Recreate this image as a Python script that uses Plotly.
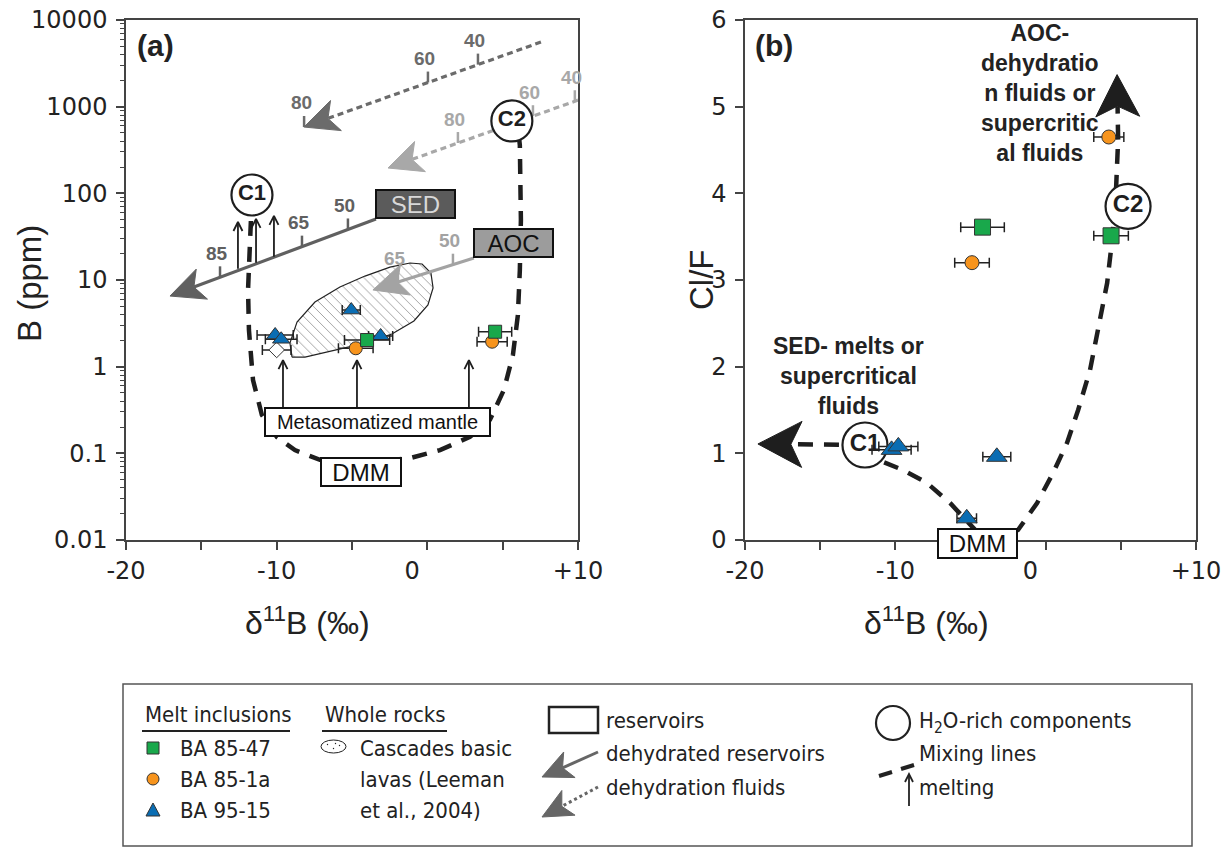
import numpy as np
import plotly.graph_objects as go

W, H = 1230, 847
OFF = 8             # page margin of the host document
XA = (126, 578)     # pixel extent of panel (a) x axis
XB = (745, 1196)    # pixel extent of panel (b) x axis
YP = (20, 540)      # pixel extent (top, bottom) of both y axes

# ---------------- axes ----------------
X_RANGE = [-20, 10]
X_TICKVALS = [-20, -10, 0, 10]
X_TICKTEXT = ["-20", "-10", "0\u2007\u2007", "+10"]
X_MINOR = [-15, -5, 5]
B_LOG_RANGE = [-2, 4]
CLF_RANGE = [0, 6]

# ---------------- melt inclusions, panel (a): d11B vs B ----------------
sq_d11B_a = [-4.0, 4.5];   sq_B = [2.03, 2.53];  sq_err_a = [1.5, 1.1]
ci_d11B_a = [-4.75, 4.3];  ci_B = [1.63, 1.94];  ci_err_a = [1.15, 1.0]
tr_d11B_a = [-10.1, -9.7, -5.05, -3.1]; tr_B = [2.32, 2.07, 4.5, 2.26]; tr_err_a = [1.2, 1.05, 0.6, 0.8]
di_d11B_a = [-10.0]; di_B = [1.56]; di_err_a = [0.95]

# ---------------- melt inclusions, panel (b): d11B vs Cl/F ----------------
sq_d11B_b = [-4.2, 4.35];  sq_ClF = [3.61, 3.51]; sq_err_b = [1.45, 1.15]
ci_d11B_b = [-4.9, 4.2];   ci_ClF = [3.2, 4.65];  ci_err_b = [1.15, 1.0]
tr_d11B_b = [-10.25, -9.8, -3.25, -5.25]; tr_ClF = [1.04, 1.08, 0.96, 0.25]; tr_err_b = [1.3, 1.3, 0.93, 0.65]

# ---------------- Cascades basic lavas field (a) ----------------
blob_d11B = [-8.98, -9.12, -8.65, -7.46, -5.80, -4.14, -2.48, -1.15, -0.35, 0.24, 0.38, 0.04,
             -0.89, -2.35, -4.34, -6.46, -8.12, -8.98]
blob_B = [1.29, 1.87, 3.27, 5.57, 8.30, 11.1, 14.1, 15.7, 15.3, 12.0, 8.09, 5.15,
          3.37, 2.38, 1.83, 1.52, 1.29, 1.29]

# ---------------- reservoir / fluid trends (a) ----------------
sed_line = dict(tail=(-3.41, 50.6), tip=(-17.08, 6.53), color="#606060", dash="solid",
                ticks=[-13.76, -8.32, -5.27], labels=["85", "65", "50"])
aoc_line = dict(tail=(3.09, 17.9), tip=(-3.61, 7.67), color="#a3a3a3", dash="solid",
                ticks=[-1.95, 1.70], labels=["65", "50"])
sed_fluid = dict(tail=(7.54, 5570), tip=(-8.19, 582), color="#6b6b6b", dash="6px,4px",
                 ticks=[-8.18, 0.04, 3.36], labels=["80", "60", "40"])
aoc_fluid = dict(tail=(10.0, 1190), tip=(-2.61, 196), color="#a8a8a8", dash="6px,4px",
                 ticks=[2.03, 7.01, 9.79], labels=["80", "60", "40"])

# ---------------- mixing curves ----------------
mix_a_d11B = [-11.64, -11.80, -11.90, -11.84, -11.57, -10.98, -9.98, -8.79, -7.13, -4.14,
              -1.15, 0.84, 2.83, 4.15, 5.08, 5.68, 6.01, 6.14, 6.21, 6.14, 6.0]
mix_a_B = [95.7, 22.2, 7.67, 2.65, 0.70, 0.277, 0.154, 0.109, 0.084, 0.0774,
           0.088, 0.109, 0.155, 0.243, 0.538, 1.36, 3.94, 13.0, 49.2, 361, 600]
mix_b_d11B = [-12.02, -10.82, -9.49, -7.89, -6.36, -5.50, -4.6, -3.2, -1.84, -0.57, 0.49,
              1.42, 2.16, 2.95, 3.49, 4.09, 4.42, 4.68, 4.82]
mix_b_ClF = [1.096, 0.90, 0.808, 0.658, 0.427, 0.265, 0.10, 0.02, 0.115, 0.427, 0.773,
             1.119, 1.50, 1.96, 2.42, 2.965, 3.46, 4.04, 4.62]
mix_b_up_tip = (4.75, 5.37)
mix_b_left_tip = (-19.14, 1.108)

# H2O-rich components
c_a = {"C1": (-11.64, 95.7), "C2": (5.61, 684)}
c_b = {"C1": (-12.02, 1.096), "C2": (5.48, 3.85)}

# melting arrows (a): d11B, start B, end B
melt_up_d11B = [-12.57, -11.37, -10.18]; melt_up_B0 = [13.5, 15.8, 18.5]; melt_up_B1 = [46.7, 50.6, 54.8]
melt_lo_d11B = [-9.58, -4.67, 2.76]; melt_lo_B0 = [0.343, 0.343, 0.343]; melt_lo_B1 = [1.19, 1.19, 1.19]

GREEN, ORANGE, BLUE = "#19a84b", "#f7941d", "#0a6db3"
INK = "#1e1e1e"

# ---------------- pixel helpers (for arrowheads only) ----------------
SX = (XA[1] - XA[0]) / 30.0
SYA = (YP[1] - YP[0]) / 6.0
SYB = (YP[1] - YP[0]) / 6.0


def to_px(x, y, log):
    return x * SX, (np.log10(y) * SYA if log else y * SYB)


def from_px(X, Y, log):
    return X / SX, (10 ** (Y / SYA) if log else Y / SYB)


def chevron(tip, tail, L, hw, notch, log):
    tx, ty = to_px(tip[0], tip[1], log)
    sx, sy = to_px(tail[0], tail[1], log)
    dx, dy = tx - sx, ty - sy
    n = np.hypot(dx, dy); dx /= n; dy /= n
    nx, ny = -dy, dx
    pts = [(tx, ty), (tx - L * dx + hw * nx, ty - L * dy + hw * ny),
           (tx - notch * L * dx, ty - notch * L * dy),
           (tx - L * dx - hw * nx, ty - L * dy - hw * ny), (tx, ty)]
    xy = [from_px(X, Y, log) for X, Y in pts]
    return [p[0] for p in xy], [p[1] for p in xy], xy[2]


def vhead(tip, tail, L, hw, log):
    tx, ty = to_px(tip[0], tip[1], log)
    sx, sy = to_px(tail[0], tail[1], log)
    dx, dy = tx - sx, ty - sy
    n = np.hypot(dx, dy); dx /= n; dy /= n
    nx, ny = -dy, dx
    pts = [(tx - L * dx + hw * nx, ty - L * dy + hw * ny), (tx, ty),
           (tx - L * dx - hw * nx, ty - L * dy - hw * ny)]
    xy = [from_px(X, Y, log) for X, Y in pts]
    return [p[0] for p in xy], [p[1] for p in xy]


fig = go.Figure()
SK = dict(hoverinfo="skip", showlegend=False)


def add_arrow(tail, tip, color, dash, width, L, hw, log, xa, ya):
    hx, hy, base = chevron(tip, tail, L, hw, 0.75, log)
    fig.add_trace(go.Scatter(x=[tail[0], base[0]], y=[tail[1], base[1]], mode="lines",
                             line=dict(color=color, width=width, dash=dash), xaxis=xa, yaxis=ya, **SK))
    fig.add_trace(go.Scatter(x=hx, y=hy, mode="lines", fill="toself", fillcolor=color,
                             line=dict(color=color, width=1), xaxis=xa, yaxis=ya, **SK))


annotations = []

# ---- panel (a) ----
fig.add_trace(go.Scatter(x=blob_d11B, y=blob_B, mode="lines", fill="toself",
                         fillcolor="white", line=dict(color="#222", width=1.2),
                         fillpattern=dict(shape="\\", fgcolor="#444", bgcolor="white", size=7, solidity=0.14),
                         xaxis="x", yaxis="y", **SK))

for ln in (sed_line, aoc_line, sed_fluid, aoc_fluid):
    add_arrow(ln["tail"], ln["tip"], ln["color"], ln["dash"], 3.2, 34, 16, True, "x", "y")
    lx0, ly0 = ln["tail"][0], np.log10(ln["tail"][1])
    lx1, ly1 = ln["tip"][0], np.log10(ln["tip"][1])
    txs, tys = [], []
    for xv, lab in zip(ln["ticks"], ln["labels"]):
        yl = ly0 + (xv - lx0) * (ly1 - ly0) / (lx1 - lx0)
        txs += [xv, xv, None]
        tys += [10 ** yl, 10 ** (yl + 11 / SYA), None]
        annotations.append(dict(x=xv, y=yl, xref="x", yref="y", text="<b>%s</b>" % lab, showarrow=False,
                                yshift=24, xshift=-3,
                                font=dict(family="Liberation Sans Narrow, Liberation Sans", size=19,
                                          color=ln["color"])))
    fig.add_trace(go.Scatter(x=txs, y=tys, mode="lines", line=dict(color=ln["color"], width=2.5),
                             xaxis="x", yaxis="y", **SK))

# mixing curve (a)
fig.add_trace(go.Scatter(x=mix_a_d11B, y=mix_a_B, mode="lines",
                         line=dict(color=INK, width=4.5, dash="15px,11px"), xaxis="x", yaxis="y", **SK))

# melting arrows (a)
mx, my = [], []
for xs, b0s, b1s in ((melt_up_d11B, melt_up_B0, melt_up_B1), (melt_lo_d11B, melt_lo_B0, melt_lo_B1)):
    for xv, b0, b1 in zip(xs, b0s, b1s):
        mx += [xv, xv, None]
        my += [b0, b1, None]
        hx, hy = vhead((xv, b1), (xv, b0), 9, 4.5, True)
        mx += hx + [None]
        my += hy + [None]
fig.add_trace(go.Scatter(x=mx, y=my, mode="lines", line=dict(color=INK, width=1.8),
                         xaxis="x", yaxis="y", **SK))

# H2O-rich component circles (a)
fig.add_trace(go.Scatter(x=[v[0] for v in c_a.values()], y=[v[1] for v in c_a.values()],
                         mode="markers+text", text=["<b>%s</b>" % k for k in c_a],
                         textposition="middle center",
                         textfont=dict(family="Liberation Sans", size=22, color=INK),
                         marker=dict(symbol="circle", size=41, color="white", line=dict(color=INK, width=2.2)),
                         xaxis="x", yaxis="y", **SK))

EB = lambda arr: dict(type="data", array=arr, color="#222", thickness=1.5, width=5)
fig.add_trace(go.Scatter(x=di_d11B_a, y=di_B, mode="markers", error_x=EB(di_err_a),
                         marker=dict(symbol="diamond", size=12, color="white", line=dict(color="#333", width=1)),
                         xaxis="x", yaxis="y", **SK))
fig.add_trace(go.Scatter(x=tr_d11B_a, y=tr_B, mode="markers", error_x=EB(tr_err_a),
                         marker=dict(symbol="triangle-up", size=15, color=BLUE, line=dict(color="#333", width=1)),
                         xaxis="x", yaxis="y", **SK))
fig.add_trace(go.Scatter(x=ci_d11B_a, y=ci_B, mode="markers", error_x=EB(ci_err_a),
                         marker=dict(symbol="circle", size=13, color=ORANGE, line=dict(color="#333", width=1)),
                         xaxis="x", yaxis="y", **SK))
fig.add_trace(go.Scatter(x=sq_d11B_a, y=sq_B, mode="markers", error_x=EB(sq_err_a),
                         marker=dict(symbol="square", size=13, color=GREEN, line=dict(color="#333", width=1)),
                         xaxis="x", yaxis="y", **SK))

# ---- panel (b) ----
fig.add_trace(go.Scatter(x=mix_b_d11B, y=mix_b_ClF, mode="lines",
                         line=dict(color=INK, width=4.5, dash="15px,11px"), xaxis="x2", yaxis="y2", **SK))
add_arrow((mix_b_d11B[-1], mix_b_ClF[-1]), mix_b_up_tip, INK, "15px,11px", 4.5, 42, 22, False, "x2", "y2")
add_arrow((mix_b_d11B[0], mix_b_ClF[0]), mix_b_left_tip, INK, "15px,11px", 4.5, 44, 23, False, "x2", "y2")

fig.add_trace(go.Scatter(x=[v[0] for v in c_b.values()], y=[v[1] for v in c_b.values()],
                         mode="markers+text", text=["<b>%s</b>" % k for k in c_b],
                         textposition="middle center",
                         textfont=dict(family="Liberation Sans", size=24, color=INK),
                         marker=dict(symbol="circle", size=45, color="white", line=dict(color=INK, width=2.2)),
                         xaxis="x2", yaxis="y2", **SK))
fig.add_trace(go.Scatter(x=tr_d11B_b, y=tr_ClF, mode="markers", error_x=EB(tr_err_b),
                         marker=dict(symbol="triangle-up", size=18, color=BLUE, line=dict(color="#333", width=1)),
                         xaxis="x2", yaxis="y2", **SK))
fig.add_trace(go.Scatter(x=ci_d11B_b, y=ci_ClF, mode="markers", error_x=EB(ci_err_b),
                         marker=dict(symbol="circle", size=14, color=ORANGE, line=dict(color="#333", width=1)),
                         xaxis="x2", yaxis="y2", **SK))
fig.add_trace(go.Scatter(x=sq_d11B_b, y=sq_ClF, mode="markers", error_x=EB(sq_err_b),
                         marker=dict(symbol="square", size=16, color=GREEN, line=dict(color="#333", width=1)),
                         xaxis="x2", yaxis="y2", **SK))


# ---------------- boxes (a)/(b) ----------------
def box(x, y, text, w, h, size, bg, fc, xref="x", yref="y", yshift=0):
    annotations.append(dict(x=x, y=y, xref=xref, yref=yref, text=text, showarrow=False,
                            width=w, height=h, bgcolor=bg, bordercolor="#111", borderwidth=2,
                            borderpad=0, yshift=yshift,
                            font=dict(family="Liberation Sans", size=size, color=fc)))


box(-0.756, 1.877, "SED", 77, 26, 24, "#5b5b5b", "#d8d8d8")
box(5.75, 1.427, "AOC", 77, 26, 24, "#9c9c9c", "#111")
box(-3.31, -0.638, "Metasomatized mantle", 223, 26, 20, "white", "#111")
box(-4.41, -1.215, "DMM", 78, 26, 24, "white", "#111")
box(-4.53, 0.0, "DMM", 77, 27, 24, "white", "#111", "x2", "y2", yshift=-3.5)


def P(px, py):
    return (px - OFF) / W, 1 - (py - OFF) / H


def ptext(px, py, text, size, xanchor="center", family="Liberation Sans", angle=0, color="#222", yanchor="middle"):
    x, y = P(px, py)
    annotations.append(dict(x=x, y=y, xref="paper", yref="paper", text=text, showarrow=False,
                            xanchor=xanchor, yanchor=yanchor, textangle=angle,
                            font=dict(family=family, size=size, color=color)))


ptext(135, 45, "<b>(a)</b>", 30, "left")
ptext(753, 45, "<b>(b)</b>", 30, "left")
ptext(1040, 93, "<b>AOC-<br>dehydratio<br>n fluids or<br>supercritic<br>al fluids</b>", 23)
ptext(848, 376, "<b>SED- melts or<br>supercritical<br>fluids</b>", 23)

# axis titles
ptext(29, 284, "B (ppm)", 33, angle=-90)
ptext(702, 280, "Cl/F", 33, angle=-90)
ptext(307, 621, "\u03b4<sup>11</sup>B (\u2030)", 32)
ptext(926, 621, "\u03b4<sup>11</sup>B (\u2030)", 32)

# ---------------- custom legend ----------------
shapes = []
LC = "#222"


def prect(x0, y0, x1, y1, **kw):
    a0, b0 = P(x0, y1); a1, b1 = P(x1, y0)
    shapes.append(dict(type="rect", xref="paper", yref="paper", x0=a0, y0=b0, x1=a1, y1=b1, **kw))


def pcirc(x0, y0, x1, y1, **kw):
    a0, b0 = P(x0, y1); a1, b1 = P(x1, y0)
    shapes.append(dict(type="circle", xref="paper", yref="paper", x0=a0, y0=b0, x1=a1, y1=b1, **kw))


def ppath(pts, closed=False, **kw):
    d = "M" + "L".join("%.5f,%.5f" % P(x, y) for x, y in pts) + ("Z" if closed else "")
    shapes.append(dict(type="path", xref="paper", yref="paper", path=d, **kw))


def pline(x0, y0, x1, y1, **kw):
    a0, b0 = P(x0, y0); a1, b1 = P(x1, y1)
    shapes.append(dict(type="line", xref="paper", yref="paper", x0=a0, y0=b0, x1=a1, y1=b1, **kw))


def pchev(tail, tip, L, hw, color, dash):
    d = np.array(tip, float) - np.array(tail, float)
    d /= np.hypot(*d)
    n = np.array([-d[1], d[0]])
    t = np.array(tip, float)
    base = t - 0.75 * L * d
    pline(tail[0], tail[1], base[0], base[1], line=dict(color=color, width=3, dash=dash))
    pts = [t, t - L * d + hw * n, base, t - L * d - hw * n]
    ppath([tuple(p) for p in pts], closed=True, fillcolor=color, line=dict(color=color, width=1))


prect(123, 684, 1192, 846, line=dict(color="#555", width=1.5))
LF = "DejaVu Sans Condensed, DejaVu Sans"
LS = 22
ptext(143, 714, "Melt inclusions", LS, "left", LF)
pline(142, 731, 290, 731, line=dict(color=LC, width=2))
ptext(323, 714, "Whole rocks", LS, "left", LF)
pline(322, 731, 447, 731, line=dict(color=LC, width=2))

prect(147, 742, 159, 754, fillcolor=GREEN, line=dict(color="#333", width=1))
pcirc(147, 773, 159, 785, fillcolor=ORANGE, line=dict(color="#333", width=1))
ppath([(146, 816), (160, 816), (153, 803)], closed=True, fillcolor=BLUE, line=dict(color="#333", width=1))
ptext(178, 748, "BA 85-47", LS, "left", LF)
ptext(178, 779, "BA 85-1a", LS, "left", LF)
ptext(178, 810, "BA 95-15", LS, "left", LF)

pcirc(321, 740, 346, 753, fillcolor="white", line=dict(color=LC, width=1))
for dx, dy in ((-6, -2), (0, 2), (6, -1), (2, -3)):
    pcirc(333.5 + dx - 0.7, 746.5 + dy - 0.7, 333.5 + dx + 0.7, 746.5 + dy + 0.7, fillcolor=LC, line=dict(width=0))
ptext(358, 748, "Cascades basic", LS, "left", LF)
ptext(358, 779, "lavas (Leeman", LS, "left", LF)
ptext(358, 810, "et al., 2004)", LS, "left", LF)

prect(549, 707, 598, 733, line=dict(color=LC, width=2.5))
ptext(604, 720, "reservoirs", LS, "left", LF)
pchev((598, 752), (542, 777), 30, 14, "#666", "solid")
ptext(604, 753, "dehydrated reservoirs", LS, "left", LF)
pchev((598, 787), (542, 817), 30, 14, "#666", "dot")
ptext(604, 787, "dehydration fluids", LS, "left", LF)

pcirc(876, 706, 910, 740, line=dict(color=LC, width=2.2))
ptext(917, 722, "H<sub>2</sub>O-rich components", LS, "left", LF)
pline(879, 776, 892, 772, line=dict(color=LC, width=4))
pline(901, 769, 914, 765, line=dict(color=LC, width=4))
ptext(917, 753, "Mixing lines", LS, "left", LF)
pline(909, 806, 909, 774, line=dict(color=LC, width=1.8))
ppath([(905, 782), (909, 774), (913, 782)], line=dict(color=LC, width=1.8))
ptext(917, 787, "melting", LS, "left", LF)

# ---------------- layout ----------------
TF = dict(family="DejaVu Sans", size=24, color="#222")
common_x = dict(range=X_RANGE, tickvals=X_TICKVALS, ticktext=X_TICKTEXT, ticks="outside", ticklen=8,
                tickwidth=1.5, tickcolor="#444", showline=True, linecolor="#444", linewidth=1.5,
                minor=dict(tickvals=X_MINOR, ticks="outside", ticklen=8, tickwidth=1.5, tickcolor="#444"),
                mirror=True, showgrid=False, zeroline=False, tickfont=TF, automargin=False,
                ticklabeloverflow="allow")
YDOM = [1 - (YP[1] - OFF) / H, 1 - (YP[0] - OFF) / H]
fig.update_layout(
    width=W, height=H, margin=dict(l=0, r=0, t=0, b=0, autoexpand=False),
    plot_bgcolor="white", paper_bgcolor="white", showlegend=False,
    xaxis=dict(domain=[(XA[0] - OFF) / W, (XA[1] - OFF) / W], anchor="y", **common_x),
    xaxis2=dict(domain=[(XB[0] - OFF) / W, (XB[1] - OFF) / W], anchor="y2", **common_x),
    yaxis=dict(domain=YDOM, anchor="x", type="log", range=B_LOG_RANGE,
               dtick=1, tickformat="~g", ticks="outside", ticklen=8, tickwidth=1.5, tickcolor="#444",
               minor=dict(ticks="outside", ticklen=4, dtick="D1", tickcolor="#444", tickwidth=1),
               showline=True, linecolor="#444", linewidth=1.5, mirror=True, showgrid=False,
               zeroline=False, tickfont=TF, automargin=False, ticklabeloverflow="allow",
               ticklabelstandoff=4),
    yaxis2=dict(domain=YDOM, anchor="x2", range=CLF_RANGE, dtick=1,
                ticks="outside", ticklen=8, tickwidth=1.5, tickcolor="#444", showline=True,
                linecolor="#444", linewidth=1.5, mirror=True, showgrid=False, zeroline=False,
                tickfont=TF, automargin=False, ticklabeloverflow="allow", ticklabelstandoff=4),
    annotations=annotations, shapes=shapes,
)

fig.write_html("out.html")
